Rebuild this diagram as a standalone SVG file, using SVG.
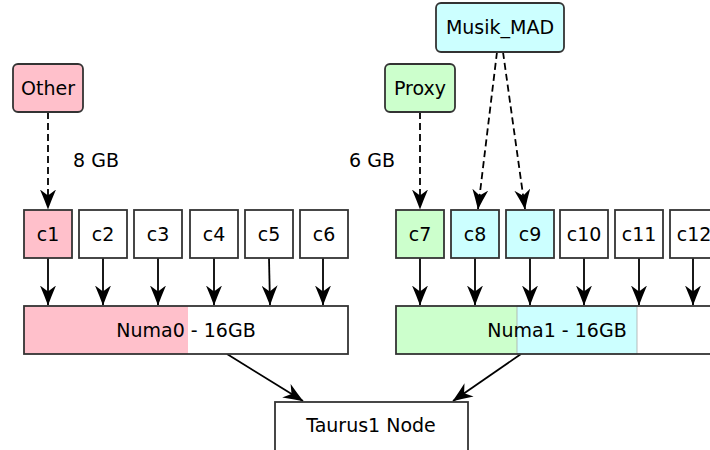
<svg xmlns="http://www.w3.org/2000/svg" width="710" height="450" viewBox="0 0 710 450">
<style>
text{font-family:"DejaVu Sans",sans-serif;font-size:19px;fill:#000;text-anchor:middle;dominant-baseline:central}
.box{stroke:#333;stroke-width:1.8}
.ln{stroke:#000;stroke-width:1.8;fill:none}
.dash{stroke-dasharray:7 4}
</style>
<defs>
<marker id="ah" viewBox="0 0 20 16" refX="19.5" refY="8" markerWidth="20" markerHeight="16" markerUnits="userSpaceOnUse" orient="auto">
<path d="M0,0 Q10,4.3 20,8 Q10,11.7 0,16 L6,8 Z" fill="#000"/>
</marker>
</defs>
<g id="connectors">
<path class="ln dash" d="M48,112 V209" marker-end="url(#ah)"/>
<path class="ln dash" d="M420,112 V209" marker-end="url(#ah)"/>
<path class="ln dash" d="M497,52 L478,209" marker-end="url(#ah)"/>
<path class="ln dash" d="M503,52 L525,209" marker-end="url(#ah)"/>
<path class="ln" d="M48,258 V305" marker-end="url(#ah)"/>
<path class="ln" d="M103,258 V305" marker-end="url(#ah)"/>
<path class="ln" d="M158,258 V305" marker-end="url(#ah)"/>
<path class="ln" d="M214,258 V305" marker-end="url(#ah)"/>
<path class="ln" d="M269,258 L270,305" marker-end="url(#ah)"/>
<path class="ln" d="M323,258 V305" marker-end="url(#ah)"/>
<path class="ln" d="M420,258 V305" marker-end="url(#ah)"/>
<path class="ln" d="M475,258 V305" marker-end="url(#ah)"/>
<path class="ln" d="M530,258 V305" marker-end="url(#ah)"/>
<path class="ln" d="M584,258 V305" marker-end="url(#ah)"/>
<path class="ln" d="M639,258 V305" marker-end="url(#ah)"/>
<path class="ln" d="M693,258 V305" marker-end="url(#ah)"/>
<path class="ln" d="M227,354 L303,401" marker-end="url(#ah)"/>
<path class="ln" d="M521,354 L453,401" marker-end="url(#ah)"/>
</g>
<g id="other"><rect class="box" x="13" y="64" width="70" height="48" rx="5" fill="#ffc0cb"/><text x="48" y="88">Other</text></g>
<g id="proxy"><rect class="box" x="385" y="64" width="70" height="48" rx="5" fill="#ccffcc"/><text x="420" y="88">Proxy</text></g>
<g id="musik"><rect class="box" x="436" y="3" width="128" height="49" rx="5" fill="#ccffff"/><text x="500" y="27">Musik_MAD</text></g>
<g id="lbl8"><text x="96" y="160">8 GB</text></g>
<g id="lbl6"><text x="372" y="160">6 GB</text></g>
<g id="c1"><rect class="box" x="24" y="210" width="48" height="48" fill="#ffc0cb"/><text x="48" y="234">c1</text></g>
<g id="c2"><rect class="box" x="79" y="210" width="48" height="48" fill="#fff"/><text x="103" y="234">c2</text></g>
<g id="c3"><rect class="box" x="134" y="210" width="48" height="48" fill="#fff"/><text x="158" y="234">c3</text></g>
<g id="c4"><rect class="box" x="190" y="210" width="48" height="48" fill="#fff"/><text x="214" y="234">c4</text></g>
<g id="c5"><rect class="box" x="245" y="210" width="48" height="48" fill="#fff"/><text x="269" y="234">c5</text></g>
<g id="c6"><rect class="box" x="300" y="210" width="48" height="48" fill="#fff"/><text x="324" y="234">c6</text></g>
<g id="c7"><rect class="box" x="396" y="210" width="48" height="48" fill="#ccffcc"/><text x="420" y="234">c7</text></g>
<g id="c8"><rect class="box" x="451" y="210" width="48" height="48" fill="#ccffff"/><text x="475" y="234">c8</text></g>
<g id="c9"><rect class="box" x="506" y="210" width="48" height="48" fill="#ccffff"/><text x="530" y="234">c9</text></g>
<g id="c10"><rect class="box" x="560" y="210" width="48" height="48" fill="#fff"/><text x="584" y="234">c10</text></g>
<g id="c11"><rect class="box" x="615" y="210" width="48" height="48" fill="#fff"/><text x="639" y="234">c11</text></g>
<g id="c12"><rect class="box" x="670" y="210" width="48" height="48" fill="#fff"/><text x="694" y="234">c12</text></g>
<g id="numa0">
<rect x="24" y="306" width="324" height="48" fill="#fff"/>
<rect x="24" y="306" width="164" height="48" fill="#ffc0cb"/>
<rect class="box" x="24" y="306" width="324" height="48" fill="none"/>
<text x="186" y="330">Numa0 - 16GB</text>
</g>
<g id="numa1">
<rect x="396" y="306" width="324" height="48" fill="#fff"/>
<rect x="396" y="306" width="121" height="48" fill="#ccffcc"/>
<rect x="517" y="306" width="120" height="48" fill="#ccffff" stroke="#aaa" stroke-width="0.8"/>
<rect class="box" x="396" y="306" width="324" height="48" fill="none"/>
<text x="557" y="330">Numa1 - 16GB</text>
</g>
<g id="taurus"><rect class="box" x="275" y="402" width="193" height="60" fill="#fff"/><text x="371" y="425">Taurus1 Node</text></g>
</svg>
